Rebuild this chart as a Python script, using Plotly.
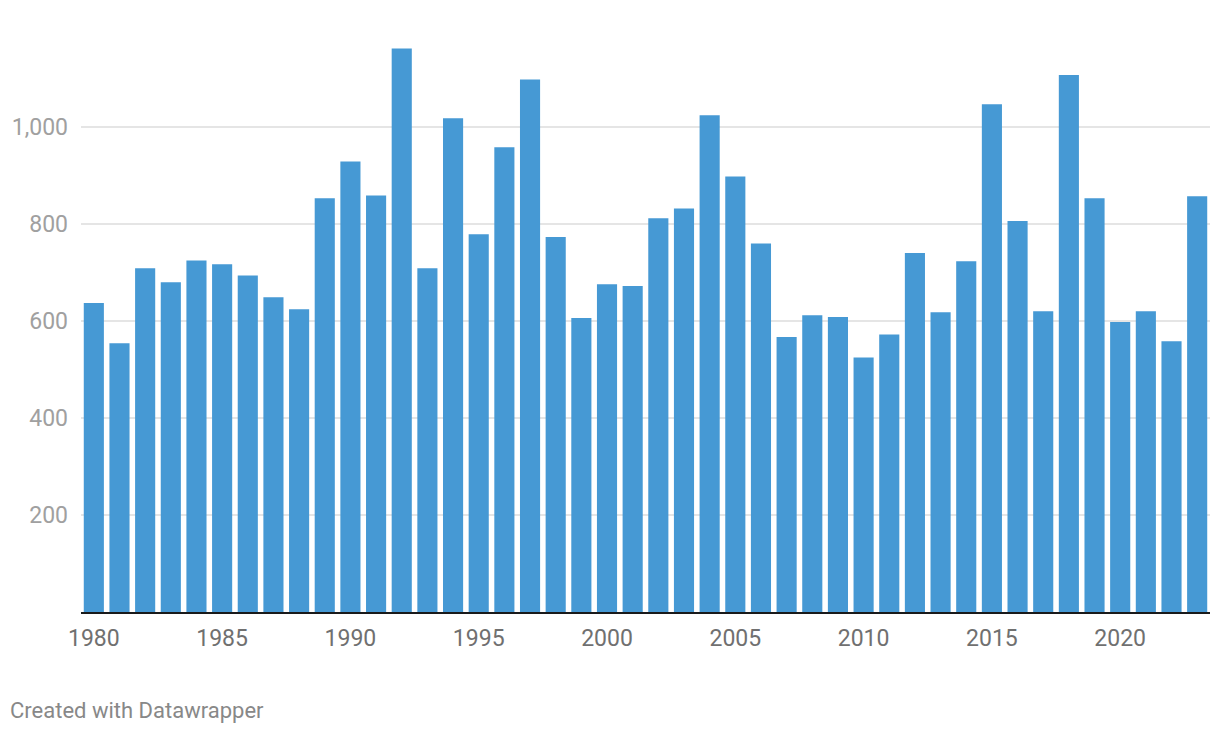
import plotly.graph_objects as go

years = list(range(1980, 2024))
values = [637, 554, 709, 680, 725, 717, 694, 649, 624, 853,
          929, 859, 1162, 709, 1018, 779, 958, 1098, 773, 606,
          676, 672, 812, 832, 1024, 898, 760, 567, 612, 608,
          525, 572, 740, 618, 723, 1047, 806, 620, 1107, 853,
          598, 620, 558, 857]

y_ticks = [200, 400, 600, 800, 1000]
y_ticktext = ["200", "400", "600", "800", "1,000"]
x_ticks = [1980, 1985, 1990, 1995, 2000, 2005, 2010, 2015, 2020]

fig = go.Figure(go.Bar(x=years, y=values, marker=dict(color="#4699d4", line=dict(width=0)),
                       hoverinfo="x+y"))

fig.update_layout(
    width=1220, height=736,
    margin=dict(l=81, r=10, t=30, b=124),
    paper_bgcolor="white", plot_bgcolor="white",
    bargap=0.216,
    showlegend=False,
    font=dict(family="Roboto", size=23),
)
fig.update_xaxes(
    range=[1979.5, 2023.5], tickvals=x_ticks, showgrid=False,
    showline=True, linecolor="#1a1a1a", linewidth=2,
    ticks="", tickfont=dict(color="#707070", size=23, family="Roboto"),
    ticklabelstandoff=4, zeroline=False,
)
fig.update_yaxes(
    range=[0, 1200], tickvals=y_ticks, ticktext=y_ticktext,
    showgrid=True, gridcolor="#e5e5e5", gridwidth=1.5,
    zeroline=False, showline=False, ticks="",
    tickfont=dict(color="#a0a0a0", size=23, family="Roboto"),
    ticklabelstandoff=12,
)
fig.add_annotation(text="Created with Datawrapper", xref="paper", yref="paper",
                   x=0, xanchor="left", y=0, yanchor="middle",
                   xshift=-73, yshift=-98, showarrow=False,
                   font=dict(family="Roboto", size=22, color="#888888"))

fig.write_html("out.html")
